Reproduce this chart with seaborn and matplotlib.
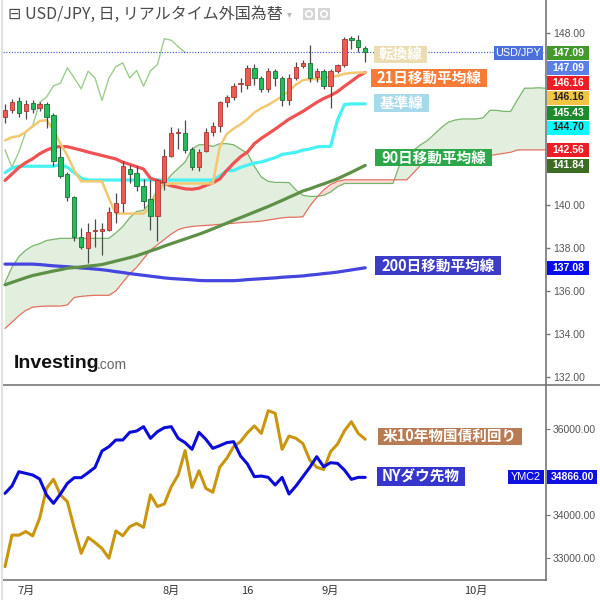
import matplotlib
matplotlib.use("Agg")
import matplotlib.pyplot as plt
from matplotlib.patches import Rectangle, Circle
from matplotlib.lines import Line2D
import numpy as np
import seaborn as sns

# USD/JPY daily candles, 2023-06-28 .. 2023-09-08
opens = [144.08, 144.42, 144.83, 144.35, 144.74, 144.52, 144.70, 144.20, 142.21, 141.44,
         140.37, 138.50, 138.00, 138.77, 138.77, 138.84, 139.69, 140.09, 141.67, 141.49,
         140.89, 140.28, 139.50, 141.08, 142.28, 143.33, 143.35, 142.60, 141.76, 142.49,
         143.40, 143.69, 144.77, 145.02, 145.61, 145.59, 146.38, 145.90, 145.40, 146.22,
         145.90, 144.86, 145.90, 146.48, 146.61, 145.95, 146.24, 145.54, 146.22, 146.52,
         147.77, 147.68, 147.30]
closes = [144.43, 144.77, 144.29, 144.70, 144.47, 144.70, 144.11, 142.06, 141.35, 140.37,
          138.50, 138.05, 138.75, 138.80, 138.86, 139.69, 140.09, 141.80, 141.44, 140.89,
          140.19, 139.50, 141.17, 142.28, 143.35, 143.38, 142.56, 141.76, 142.47, 143.40,
          143.69, 144.77, 145.02, 145.54, 145.66, 146.38, 145.90, 145.40, 146.22, 145.90,
          144.86, 145.90, 146.43, 146.61, 145.90, 146.25, 145.52, 146.24, 146.52, 147.73,
          147.66, 147.36, 147.09]
highs = [144.70, 144.92, 145.01, 144.88, 144.88, 144.79, 144.77, 144.26, 142.69, 141.53,
         140.42, 138.94, 139.18, 139.34, 139.16, 139.92, 140.55, 142.06, 141.85, 141.80,
         141.21, 141.16, 141.20, 142.60, 143.62, 143.60, 143.94, 142.69, 142.60, 143.58,
         143.85, 144.83, 145.09, 145.66, 145.90, 146.52, 146.56, 145.99, 146.38, 146.34,
         145.99, 146.07, 146.66, 146.73, 147.45, 146.38, 146.31, 146.34, 146.56, 147.80,
         147.86, 147.91, 147.41]
lows = [143.81, 144.26, 144.11, 144.02, 144.29, 144.35, 143.58, 141.80, 141.26, 140.19,
        138.32, 137.96, 137.32, 138.05, 137.68, 138.77, 139.18, 139.69, 141.00, 140.64,
        139.84, 138.84, 138.32, 140.71, 142.24, 142.60, 142.42, 141.62, 141.58, 142.45,
        143.22, 143.40, 144.56, 144.88, 145.27, 145.41, 145.59, 145.24, 145.27, 145.54,
        144.60, 144.65, 145.81, 146.38, 145.72, 145.72, 145.41, 144.51, 146.13, 146.43,
        147.23, 147.09, 146.65]

tenkan = [143.0, 143.15, 143.2, 143.4, 143.65, 143.9, 143.95, 143.5, 142.85, 142.3,
          141.6, 141.1, 141.1, 141.1, 141.1, 140.3, 139.6, 139.6, 139.6, 139.6,
          139.6, 139.9, 140.6, 140.95, 141.0, 141.0, 141.0, 141.0, 141.0, 141.0,
          141.0, 142.7, 143.3, 143.55, 143.75, 144.0, 144.3, 144.5, 144.65, 144.85,
          145.05, 145.3, 145.6, 145.8, 145.85, 145.85, 145.9, 145.95, 146.0, 146.1,
          146.14, 146.16, 146.16]
kijun = [141.5, 141.72, 141.8, 141.8, 141.8, 141.8, 141.8, 141.8, 141.88, 141.75,
         141.5, 141.25, 141.16, 141.16, 141.16, 141.16, 141.16, 141.16, 141.16, 141.16,
         141.16, 141.16, 141.16, 141.16, 141.16, 141.16, 141.16, 141.16, 141.16, 141.16,
         141.16, 141.35, 141.6, 141.6, 141.75, 141.85, 141.95, 142.0, 142.1, 142.2,
         142.35, 142.4, 142.45, 142.55, 142.6, 142.7, 142.72, 142.72, 143.95, 144.67,
         144.70, 144.70, 144.70]
ma21 = [141.14, 141.44, 141.74, 141.97, 142.15, 142.38, 142.55, 142.67, 142.72, 142.71,
        142.63, 142.55, 142.46, 142.38, 142.30, 142.22, 142.14, 141.99, 141.89, 141.78,
        141.67, 141.24, 141.14, 141.00, 140.89, 140.82, 140.75, 140.73, 140.78, 140.91,
        141.03, 141.21, 141.60, 141.94, 142.24, 142.46, 142.85, 143.10, 143.31, 143.53,
        143.76, 143.99, 144.17, 144.35, 144.56, 144.77, 144.95, 145.09, 145.27, 145.52,
        145.75, 145.99, 146.16]
ma90 = [136.29, 136.40, 136.51, 136.62, 136.72, 136.79, 136.86, 136.93, 136.99, 137.06,
        137.09, 137.12, 137.16, 137.19, 137.23, 137.31, 137.39, 137.47, 137.55, 137.64,
        137.75, 137.86, 137.97, 138.09, 138.20, 138.31, 138.42, 138.53, 138.64, 138.76,
        138.89, 139.02, 139.15, 139.29, 139.41, 139.54, 139.67, 139.80, 139.93, 140.07,
        140.21, 140.36, 140.50, 140.65, 140.75, 140.87, 140.98, 141.10, 141.22, 141.37,
        141.52, 141.68, 141.84]
ma200 = [137.25, 137.25, 137.25, 137.25, 137.25, 137.23, 137.20, 137.17, 137.15, 137.13,
         137.10, 137.07, 137.05, 137.02, 136.99, 136.95, 136.90, 136.86, 136.81, 136.77,
         136.73, 136.69, 136.65, 136.61, 136.58, 136.56, 136.54, 136.52, 136.49, 136.48,
         136.48, 136.48, 136.48, 136.48, 136.50, 136.53, 136.55, 136.57, 136.59, 136.61,
         136.64, 136.66, 136.68, 136.70, 136.74, 136.77, 136.81, 136.84, 136.88, 136.93,
         136.98, 137.03, 137.08]
# leading spans run 26 bars past the last candle
span_a = [136.4, 137.1, 137.6, 137.9, 138.1, 138.2, 138.35, 138.4, 138.45, 138.45,
          138.45, 138.45, 138.45, 138.45, 138.45, 138.45, 138.7, 139.0, 139.4, 139.7,
          139.75, 140.1, 140.7, 141.0, 141.4, 141.7, 142.0, 142.6, 142.8, 142.8,
          142.72, 142.85, 142.85, 142.8, 142.6, 142.4, 141.8, 141.3, 141.1, 141.05,
          141.05, 141.04, 140.7, 140.45, 140.4, 140.4, 140.45, 140.6, 140.85, 141.0,
          141.0, 141.0, 141.0, 141.0, 141.0, 141.0, 141.0, 141.9, 142.3, 142.55,
          142.8, 143.0, 143.3, 143.6, 143.85, 143.95, 144.0, 144.0, 144.0, 144.05,
          144.4, 144.4, 144.35, 144.35, 144.9, 145.43, 145.43, 145.45, 145.43]
span_b = [134.26, 134.55, 134.85, 135.1, 135.25, 135.28, 135.3, 135.3, 135.3, 135.35,
          135.7, 135.75, 135.78, 135.8, 135.8, 135.8, 136.0, 136.4, 136.8, 137.1,
          137.5, 137.9, 138.15, 138.4, 138.65, 138.85, 138.95, 139.0, 139.03, 139.05,
          139.07, 139.1, 139.12, 139.15, 139.18, 139.2, 139.22, 139.25, 139.3, 139.35,
          139.4, 139.43, 139.43, 139.45, 139.95, 140.35, 140.7, 140.95, 141.1, 141.17,
          141.17, 141.17, 141.17, 141.17, 141.17, 141.17, 141.17, 141.17, 141.17, 141.5,
          141.85, 141.95, 142.1, 142.1, 142.1, 142.15, 142.24, 142.3, 142.3, 142.3,
          142.3, 142.35, 142.4, 142.45, 142.56, 142.56, 142.56, 142.56, 142.56]

# lower panel: NY Dow futures (YMC2) and US 10y yield (own hidden scale)
dow = [34494, 34665, 34998, 34959, 34921, 34828, 34456, 34262, 34479, 34727,
       34859, 34859, 34975, 35099, 35479, 35580, 35735, 35735, 35913, 35944,
       36045, 35773, 35928, 36021, 36045, 35773, 35673, 35518, 35913, 35750,
       35541, 35603, 35673, 35696, 35363, 35176, 34882, 34897, 34866, 34688,
       34866, 34479, 34665, 34882, 35099, 35347, 35114, 35207, 35192, 35037,
       34820, 34866, 34866]
us10y = [3.860, 3.957, 3.957, 3.968, 3.955, 4.009, 4.101, 4.129, 4.081, 4.060,
         3.978, 3.901, 3.950, 3.934, 3.916, 3.886, 3.970, 3.955, 3.983, 3.993,
         3.981, 4.081, 4.045, 4.053, 4.106, 4.142, 4.217, 4.104, 4.155, 4.101,
         4.089, 4.166, 4.193, 4.229, 4.245, 4.272, 4.293, 4.270, 4.340, 4.332,
         4.221, 4.262, 4.255, 4.239, 4.188, 4.166, 4.159, 4.214, 4.237, 4.278,
         4.306, 4.270, 4.252]

month_pos = [3, 24, 35, 47, 68]
month_labels = ['7月', '8月', '16', '9月', '10月']
price_ticks = [132, 134, 136, 138, 140, 142, 144, 146, 148]
dow_ticks = [33000, 34000, 35000, 36000]

sns.set_style('white')
plt.rcParams['font.family'] = ['Noto Sans CJK JP', 'DejaVu Sans']

W = H = 600
fig = plt.figure(figsize=(6, 6), dpi=100)


def fx(x):
    return x / W


def fy(y):
    return 1 - y / H


def box(x0, x1, yc, h, color, text='', tcolor='white', size=7.5, family='Liberation Sans', weight='bold'):
    fig.add_artist(Rectangle((fx(x0), fy(yc + h / 2)), (x1 - x0) / W, h / H,
                             transform=fig.transFigure, color=color, lw=0, zorder=5))
    if text:
        fig.text(fx((x0 + x1) / 2), fy(yc), text, ha='center', va='center', color=tcolor,
                 fontsize=size, family=family, weight=weight, zorder=6)


XL = (-0.29, 78.1)
ax = fig.add_axes([fx(3), fy(385), (546 - 3) / W, 385 / H])
ax2 = fig.add_axes([fx(3), fy(580), (546 - 3) / W, 195 / H])
axy = fig.add_axes([fx(3), fy(580), (546 - 3) / W, 195 / H])

ix = np.arange(len(closes))
ixc = np.arange(len(span_a))
a = np.array(span_a)
b = np.array(span_b)

# Ichimoku cloud
ax.fill_between(ixc, a, b, where=a >= b, interpolate=True, color='#e2efdf', lw=0, zorder=1)
ax.fill_between(ixc, a, b, where=a < b, interpolate=True, color='#fadcd9', lw=0, zorder=1)
sns.lineplot(x=ixc, y=a, ax=ax, color='#7ab56c', lw=0.9, zorder=2)
sns.lineplot(x=ixc, y=b, ax=ax, color='#e27060', lw=0.9, zorder=2)
# lagging span (close shifted back 26 bars)
sns.lineplot(x=ix[:len(closes) - 26], y=closes[26:], ax=ax, color='#9dcd8c', lw=1.0, zorder=2)

ax.axhline(closes[-1], color='#3050d0', lw=0.8, ls=(0, (1, 1.5)), zorder=3)

sns.lineplot(x=ix, y=ma200, ax=ax, color='#4545e0', lw=2.3, zorder=4)
sns.lineplot(x=ix, y=ma90, ax=ax, color='#5e9048', lw=2.3, zorder=4)
sns.lineplot(x=ix, y=kijun, ax=ax, color='#48f2f2', lw=2.3, zorder=4)
sns.lineplot(x=ix, y=ma21, ax=ax, color='#ef5252', lw=2.3, zorder=4)
sns.lineplot(x=ix, y=tenkan, ax=ax, color='#f2c870', lw=1.8, zorder=4)

# candles (red = up, green = down)
o, c = np.array(opens), np.array(closes)
up = c >= o
ax.vlines(ix, lows, highs, color='#4a4a4a', lw=0.9, zorder=5)
lo = np.minimum(o, c)
hgt = np.maximum(np.abs(c - o), 0.05)
ax.bar(ix[up], hgt[up], bottom=lo[up], width=0.62, color='#ef5b52', edgecolor='#a83530', lw=0.6, zorder=6)
ax.bar(ix[~up], hgt[~up], bottom=lo[~up], width=0.62, color='#22bd5a', edgecolor='#1b6e38', lw=0.6, zorder=6)

ax.set_xlim(*XL)
ax.set_ylim(131.63, 149.53)
ax.yaxis.tick_right()
ax.set_yticks(price_ticks)
# 142/144/146 sit under the value tags, as in the original
ax.set_yticklabels(['' if v in (142, 144, 146) else f'{v:.2f}' for v in price_ticks])
ax.set_xticks([])
ax.tick_params(axis='y', length=3, width=1, color='#777', labelsize=7.5, labelcolor='#555', pad=2)
for s in ['top', 'left', 'bottom']:
    ax.spines[s].set_visible(False)
ax.spines['right'].set_color('#777')
ax.spines['right'].set_linewidth(1.2)

# lower panel
ax2.set_zorder(1)
axy.set_zorder(0.5)
ax2.patch.set_visible(False)
axy.patch.set_visible(False)
sns.lineplot(x=ix, y=us10y, ax=axy, color='#c8960f', lw=2.2)
axy.set_xlim(*XL)
axy.set_ylim(3.819, 4.419)
axy.axis('off')

sns.lineplot(x=ix, y=dow, ax=ax2, color='#0c0cd8', lw=2.2)
ax2.set_xlim(*XL)
ax2.set_ylim(32479, 37014)
ax2.yaxis.tick_right()
ax2.set_yticks(dow_ticks)
ax2.set_yticklabels(['' if v == 35000 else f'{v:.2f}' for v in dow_ticks])
ax2.set_xticks(month_pos)
ax2.set_xticklabels(month_labels)
ax2.set_xlabel('')
ax2.set_ylabel('')
ax.set_ylabel('')
ax2.tick_params(axis='y', length=3, color='#777', labelsize=7.5, labelcolor='#555', pad=2)
ax2.tick_params(axis='x', length=3, color='#777', labelsize=8, labelcolor='#333', pad=1)
ax2.spines['left'].set_visible(False)
for s in ['top', 'right', 'bottom']:
    ax2.spines[s].set_color('#777')
    ax2.spines[s].set_linewidth(1.2)
for lbl in ax.get_yticklabels() + ax2.get_yticklabels():
    lbl.set_family('Liberation Sans')

fig.add_artist(Line2D([fx(546), 1], [fy(385), fy(385)], color='#777', lw=1.2, transform=fig.transFigure))
fig.add_artist(Line2D([fx(1.5), fx(1.5)], [0, 1], color='#e2e2e2', lw=1.5, transform=fig.transFigure))

# title bar
fig.text(fx(8), fy(14), '⊟ USD/JPY, 日, リアルタイム外国為替', fontsize=11.5, color='#4a4a4a', va='center')
fig.text(fx(287), fy(14), '▾', fontsize=7, color='#bbb', va='center', family='DejaVu Sans')
for x0 in (303, 318):
    fig.add_artist(Rectangle((fx(x0), fy(20)), 12 / W, 12 / H, transform=fig.transFigure,
                             color='#d6d6d6', lw=0))
    fig.add_artist(Circle((fx(x0 + 6), fy(14)), 3.2 / W, transform=fig.transFigure,
                          fill=False, ec='white', lw=1.2))

# watermark
fig.text(fx(14), fy(363), 'Investing', fontsize=14, weight='bold', color='#111',
         family='Liberation Sans', va='center')
fig.text(fx(97), fy(365), '.com', fontsize=10, color='#666', family='Liberation Sans', va='center')

# in-chart name labels
lab = dict(size=10.5, family=['Noto Sans CJK JP', 'DejaVu Sans'], weight='bold')
box(374, 427, 54, 17, '#ecdcb2', '転換線', **lab)
box(371, 487, 78, 18, '#f57b36', '21日移動平均線', **lab)
box(374, 429, 103, 18, '#a6d9ea', '基準線', **lab)
box(375, 492, 157.5, 17, '#2ca84b', '90日移動平均線', **lab)
box(375, 501, 265.5, 19, '#3c3cc6', '200日移動平均線', **lab)
box(378, 522, 436, 17, '#b97b53', '米10年物国債利回り', **lab)
box(377, 465, 476.5, 19, '#3636cc', 'NYダウ先物', **lab)

# price tags on the right axis
box(494, 543, 53, 14, '#4b70dc', 'USD/JPY', size=7.8, weight='normal')
tag_y = [53, 68, 83, 97.5, 112.5, 127.5, 150, 165.5, 268]
tag_val = [closes[-1], closes[-1], ma21[-1], tenkan[-1], span_a[-1], kijun[-1], span_b[-1], ma90[-1], ma200[-1]]
tag_col = ['#43992c', '#5b7fe6', '#ec1d25', '#f3c545', '#1e8a2e', '#00ffff', '#ec1d25', '#3c6d22', '#0a0aee']
tag_txt = ['white', 'white', 'white', '#222', 'white', '#222', 'white', 'white', 'white']
for yv, v, col, tc in zip(tag_y, tag_val, tag_col, tag_txt):
    box(547, 589, yv, 14, col, f'{v:.2f}', tc)
box(508, 544, 476.5, 14, '#1010e0', 'YMC2', size=7.8, weight='normal')
box(547, 597, 476.5, 14, '#1010e0', f'{dow[-1]:.2f}')

fig.savefig('out.png', dpi=100)
